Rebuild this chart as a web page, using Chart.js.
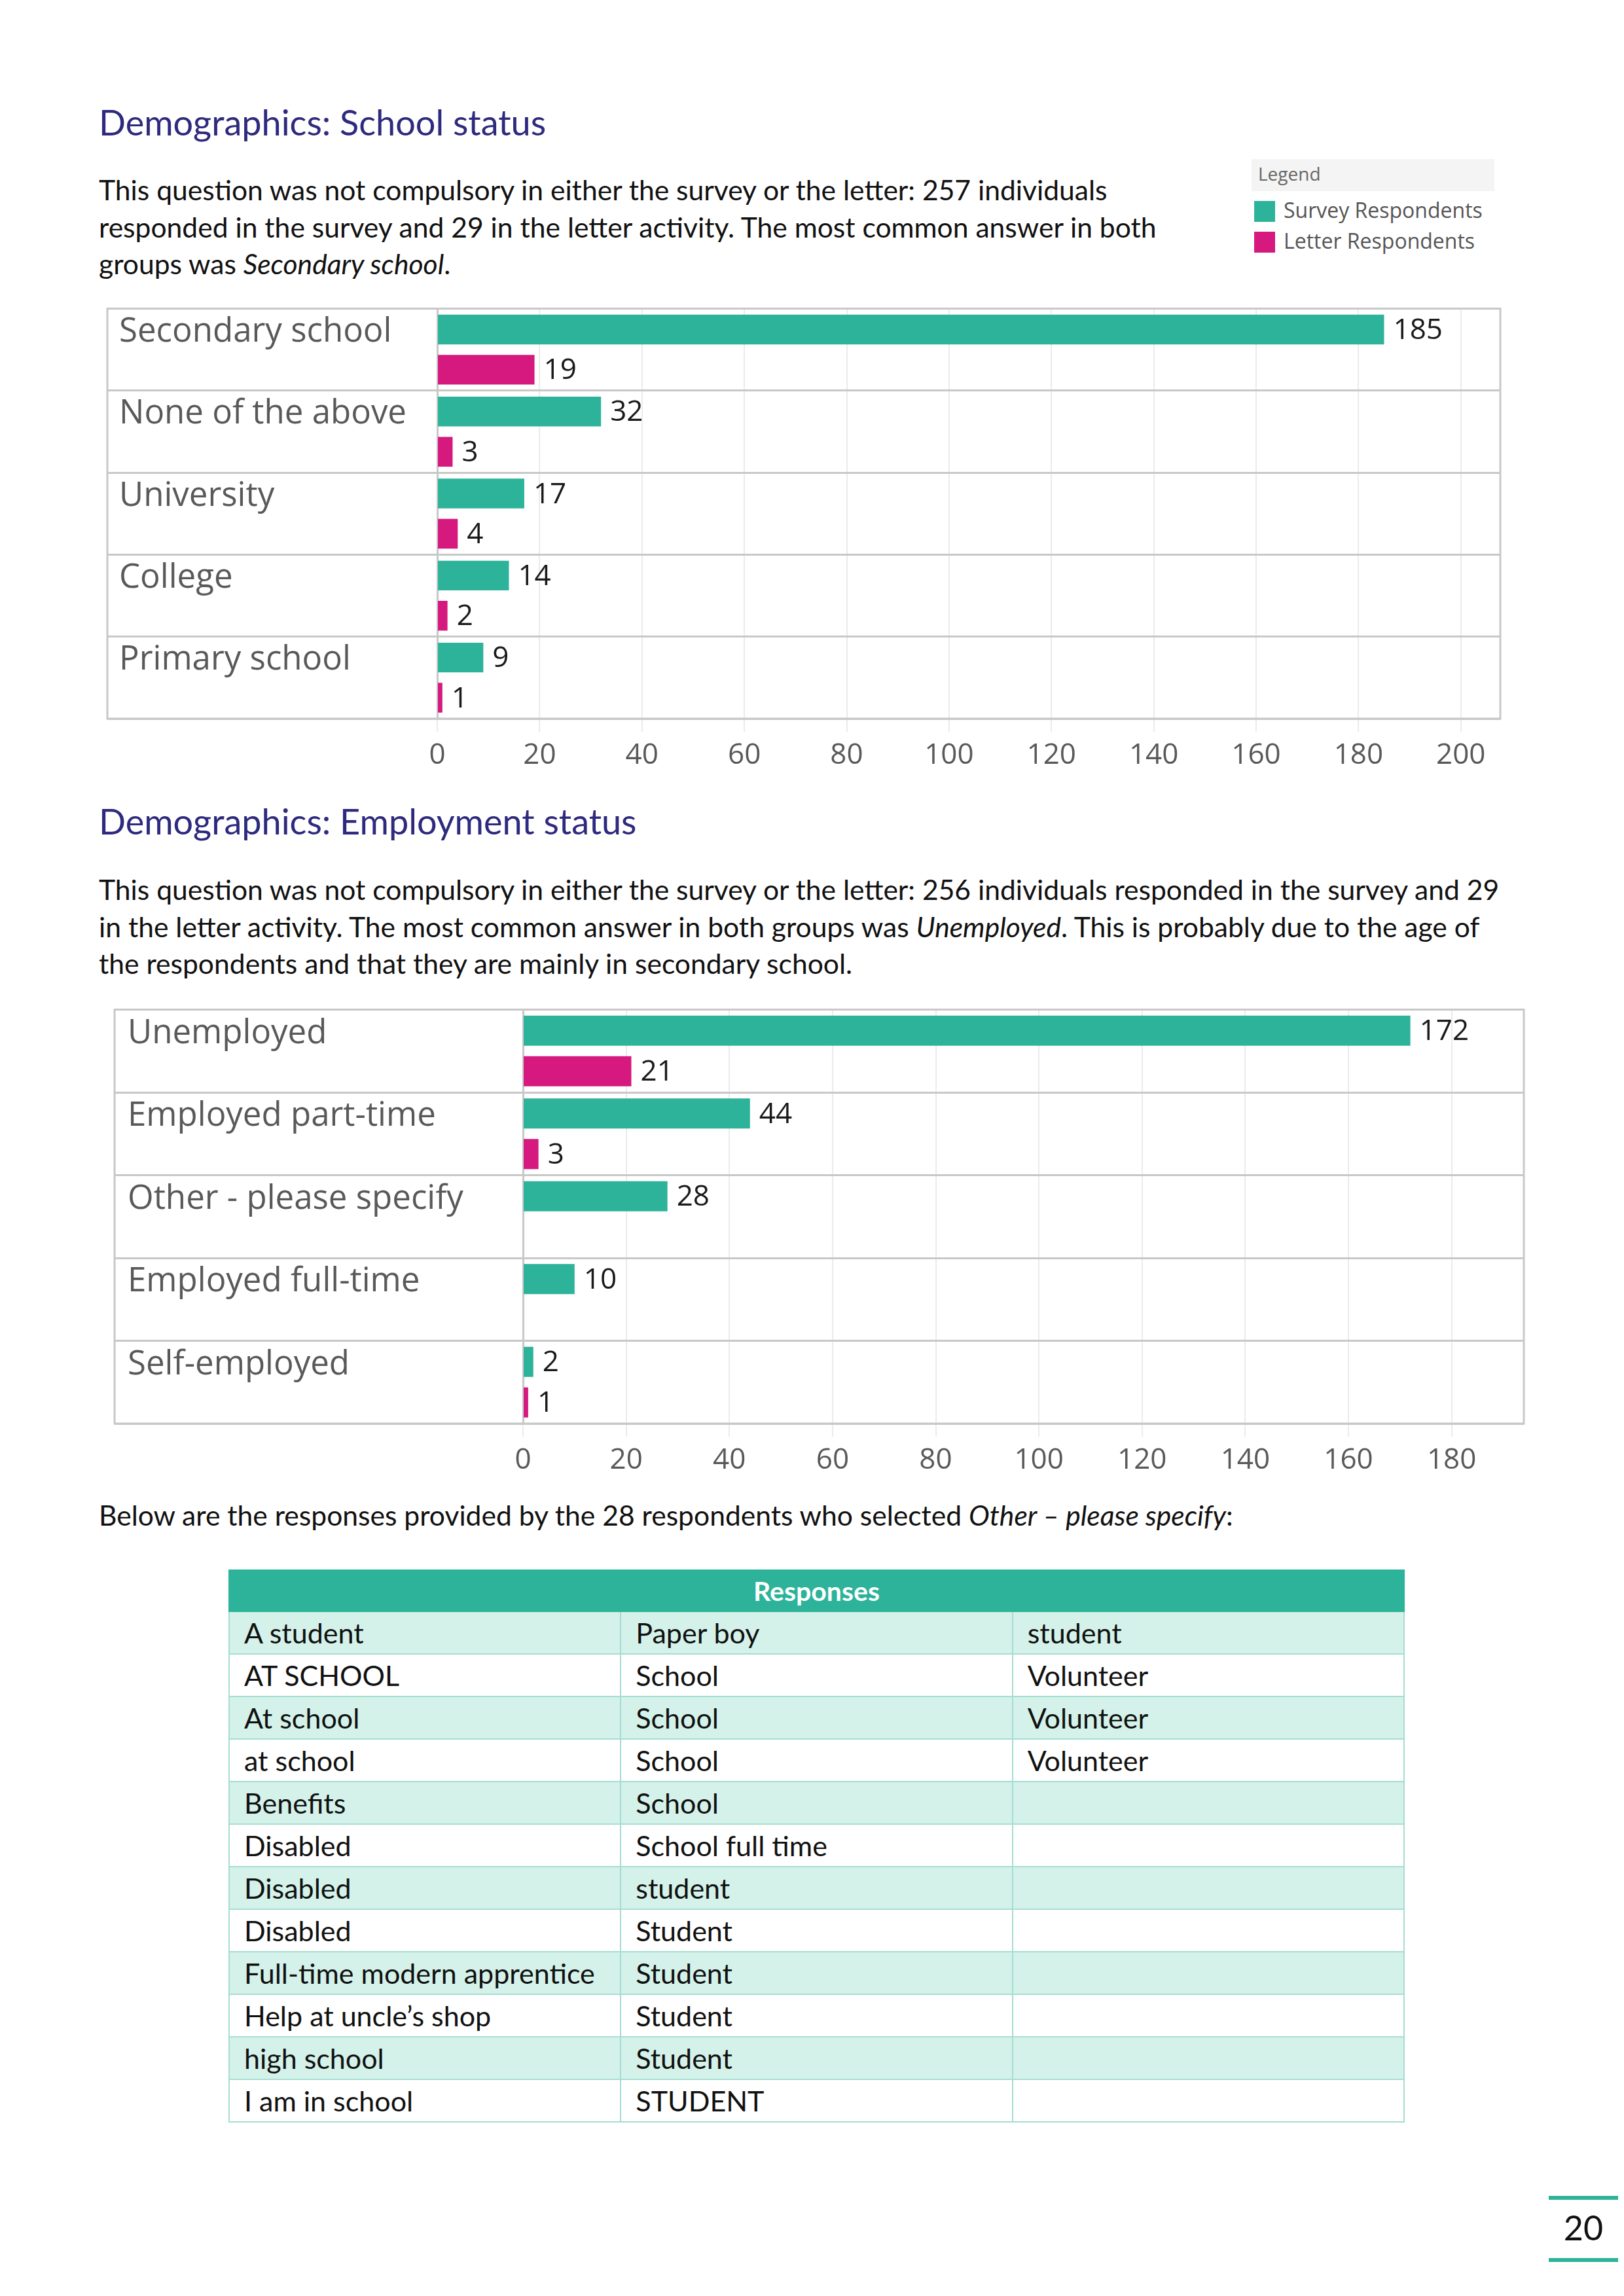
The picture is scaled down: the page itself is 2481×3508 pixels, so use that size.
<!DOCTYPE html>
<html>
<head>
<meta charset="utf-8">
<script src="https://cdn.jsdelivr.net/npm/chart.js@4.4.1/dist/chart.umd.min.js"></script>
<style>
  html, body { margin: 0; padding: 0; background: #fff; }
  body { width: 2481px; height: 3508px; position: relative; font-family: Lato, "Open Sans", sans-serif; color: #111; }
  .abs { position: absolute; white-space: nowrap; }
  .title { font-size: 54px; line-height: 70px; color: #2e2a7e; }
  .para { font-size: 42.6px; line-height: 56.5px; }
  .legend-head { position: absolute; left: 1912px; top: 243px; width: 371px; height: 49px; background: #f4f4f4;
    font-family: "Open Sans", sans-serif; font-size: 28px; line-height: 45px; color: #666; text-indent: 10px; }
  .legend-item { position: absolute; left: 1916px; font-family: "Open Sans", sans-serif; font-size: 32px; line-height: 40px; color: #555; }
  .legend-item span { display: inline-block; width: 32px; height: 32px; vertical-align: -6px; margin-right: 13px; }
  table { position: absolute; left: 349px; top: 2398px; width: 1797px; border-collapse: collapse; table-layout: fixed; font-size: 43px; }
  th { background: #2db39a; color: #fff; font-weight: bold; height: 61px; padding: 0; border: 2px solid #2db39a; font-size: 41px; }
  td { height: 63px; padding: 0 0 0 22px; border: 2px solid #a6ddd1; color: #111; }
  tr.shade td { background: #d4f2ea; }
  .pgline { position: absolute; left: 2366px; width: 106px; height: 6px; background: #2db39a; }
</style>
</head>
<body>

<div class="abs title" style="left:151px; top:152px;">Demographics: School status</div>
<div class="abs para" style="left:151px; top:262px;">This question was not compulsory in either the survey or the letter: 257 individuals<br>responded in the survey and 29 in the letter activity. The most common answer in both<br>groups was <i>Secondary school</i>.</div>

<div id="legend"></div>

<canvas id="schoolChart" class="abs" style="left:140px; top:415px;" width="2200" height="795"></canvas>

<div class="abs title" style="left:151px; top:1220px;">Demographics: Employment status</div>
<div class="abs para" style="left:151px; top:1331px;">This question was not compulsory in either the survey or the letter: 256 individuals responded in the survey and 29<br>in the letter activity. The most common answer in both groups was <i>Unemployed</i>. This is probably due to the age of<br>the respondents and that they are mainly in secondary school.</div>

<canvas id="employmentChart" class="abs" style="left:150px; top:1486px;" width="2230" height="794"></canvas>

<div class="abs para" style="left:151px; top:2287px;">Below are the responses provided by the 28 respondents who selected <i>Other – please specify</i>:</div>

<table id="responses"></table>

<div class="pgline" style="top:3355px;"></div>
<div class="abs" style="left:2366px; width:106px; top:3370px; text-align:center; font-size:52px; line-height:66px; color:#111;">20</div>
<div class="pgline" style="top:3450px;"></div>

<script>
// series
const seriesNames = ["Survey Respondents", "Letter Respondents"];
const seriesColors = ["#2db39a", "#d6197f"];

// School status
const schoolCategories = ["Secondary school", "None of the above", "University", "College", "Primary school"];
const schoolSurvey = [185, 32, 17, 14, 9];
const schoolLetter = [19, 3, 4, 2, 1];
const schoolTicks = [0, 20, 40, 60, 80, 100, 120, 140, 160, 180, 200];

// Employment status
const employmentCategories = ["Unemployed", "Employed part-time", "Other - please specify", "Employed full-time", "Self-employed"];
const employmentSurvey = [172, 44, 28, 10, 2];
const employmentLetter = [21, 3, null, null, 1];
const employmentTicks = [0, 20, 40, 60, 80, 100, 120, 140, 160, 180];

// "Other" answers table
const responseCol1 = ["A student", "AT SCHOOL", "At school", "at school", "Benefits", "Disabled", "Disabled", "Disabled", "Full-time modern apprentice", "Help at uncle\u2019s shop", "high school", "I am in school"];
const responseCol2 = ["Paper boy", "School", "School", "School", "School", "School full time", "student", "Student", "Student", "Student", "Student", "STUDENT"];
const responseCol3 = ["student", "Volunteer", "Volunteer", "Volunteer", "", "", "", "", "", "", "", ""];

// leyenda compartida
const legend = document.getElementById("legend");
legend.innerHTML = '<div class="legend-head">Legend</div>' +
  seriesNames.map((n, i) =>
    `<div class="legend-item" style="top:${301 + i * 47}px"><span style="background:${seriesColors[i]}"></span>${n}</div>`
  ).join("");

// tabla
const tabla = document.getElementById("responses");
let filas = '<tr><th colspan="3">Responses</th></tr>';
responseCol1.forEach((r, i) => {
  filas += `<tr class="${i % 2 === 0 ? "shade" : ""}"><td>${r}</td><td>${responseCol2[i]}</td><td>${responseCol3[i]}</td></tr>`;
});
tabla.innerHTML = filas;

// etiquetas de valor al final de cada barra
const valueLabels = {
  id: "valueLabels",
  afterDatasetsDraw(chart) {
    const ctx = chart.ctx;
    ctx.save();
    ctx.font = '44px "Open Sans"';
    ctx.fillStyle = "#1a1a1a";
    ctx.textBaseline = "middle";
    ctx.textAlign = "left";
    chart.data.datasets.forEach((ds, i) => {
      chart.getDatasetMeta(i).data.forEach((bar, j) => {
        const v = ds.data[j];
        if (v == null) return;
        ctx.fillText(v, bar.x + 14, bar.y + 2);
      });
    });
    ctx.restore();
  },
};

// marco exterior
const frame = {
  id: "frame",
  afterDraw(chart, args, opts) {
    const a = chart.chartArea;
    const ctx = chart.ctx;
    ctx.save();
    ctx.strokeStyle = "#c8c8c8";
    ctx.lineWidth = 3;
    ctx.strokeRect(a.left - opts.labelWidth, a.top, a.right - a.left + opts.labelWidth, a.bottom - a.top);
    ctx.restore();
  },
};

const graficoBarras = (id, categorias, survey, letter, ticks, maxX, padLeft, axisWidth, labelWidth, padRight, xHeight) => {
  new Chart(document.getElementById(id), {
    type: "bar",
    data: {
      labels: categorias.map((c) => [c, ""]),
      datasets: [
        { label: seriesNames[0], data: survey, backgroundColor: seriesColors[0] },
        { label: seriesNames[1], data: letter, backgroundColor: seriesColors[1] },
      ],
    },
    options: {
      indexAxis: "y",
      responsive: false,
      animation: false,
      devicePixelRatio: 1,
      categoryPercentage: 0.98,
      barPercentage: 0.74,
      layout: { padding: { left: padLeft, right: padRight, top: 0, bottom: 0 } },
      plugins: {
        legend: { display: false },
        tooltip: { enabled: false },
        frame: { labelWidth: labelWidth },
      },
      scales: {
        x: {
          min: 0,
          max: maxX,
          afterBuildTicks: (scale) => {
            scale.ticks = ticks.map((v) => ({ value: v }));
          },
          afterFit: (scale) => {
            scale.height = xHeight;
          },
          grid: { color: "#ebebeb", lineWidth: 2, tickLength: 20 },
          border: { display: false },
          ticks: {
            callback: (v) => v,
            color: "#595959",
            padding: 10,
            maxRotation: 0,
            autoSkip: false,
            font: { family: "Open Sans", size: 44 },
          },
        },
        y: {
          afterFit: (scale) => {
            scale.width = axisWidth;
          },
          grid: { color: "#c8c8c8", lineWidth: 3, tickLength: labelWidth },
          border: { color: "#c8c8c8", width: 3 },
          ticks: {
            crossAlign: "far",
            color: "#595959",
            font: { family: "Open Sans", size: 51, lineHeight: 1.05 },
          },
        },
      },
    },
    plugins: [valueLabels, frame],
  });
};

graficoBarras("schoolChart", schoolCategories, schoolSurvey, schoolLetter, schoolTicks, 207.7, 42, 486, 504, 48, 112);
graficoBarras("employmentChart", employmentCategories, employmentSurvey, employmentLetter, employmentTicks, 194, 45, 604, 624, 52, 105);
</script>
</body>
</html>
